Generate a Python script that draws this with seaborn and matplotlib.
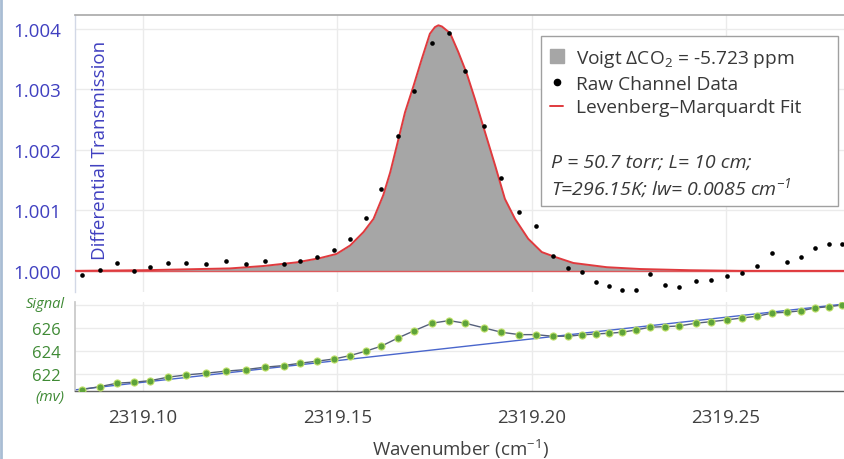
import matplotlib
matplotlib.use("Agg")
import matplotlib.pyplot as plt
from matplotlib.lines import Line2D
from matplotlib.patches import Rectangle
from matplotlib.ticker import MultipleLocator, FormatStrFormatter
import pandas as pd
import seaborn as sns

# Raw channel samples (wavenumber in cm^-1)
wavenumber = [2319.0844, 2319.0890, 2319.0934, 2319.0976, 2319.1019, 2319.1064, 2319.1111, 2319.1162,
              2319.1213, 2319.1265, 2319.1314, 2319.1362, 2319.1405, 2319.1447, 2319.1492, 2319.1532,
              2319.1573, 2319.1613, 2319.1656, 2319.1698, 2319.1743, 2319.1787, 2319.1829, 2319.1877,
              2319.1922, 2319.1968, 2319.2010, 2319.2054, 2319.2094, 2319.2129, 2319.2166, 2319.2198,
              2319.2233, 2319.2268, 2319.2304, 2319.2342, 2319.2379, 2319.2422, 2319.2462, 2319.2502,
              2319.2540, 2319.2580, 2319.2619, 2319.2657, 2319.2694, 2319.2729, 2319.2765, 2319.2799]
transmission = [0.99993, 1.00002, 1.00013, 1.00000, 1.00007, 1.00013, 1.00013, 1.00011,
                1.00017, 1.00012, 1.00017, 1.00012, 1.00017, 1.00023, 1.00035, 1.00052,
                1.00087, 1.00136, 1.00223, 1.00298, 1.00377, 1.00393, 1.00331, 1.00239,
                1.00153, 1.00097, 1.00074, 1.00025, 1.00005, 0.99998, 0.99982, 0.99975,
                0.99969, 0.99969, 0.99995, 0.99977, 0.99974, 0.99984, 0.99985, 0.99991,
                0.99997, 1.00008, 1.00029, 1.00014, 1.00023, 1.00038, 1.00044, 1.00044]
signal_mv = [620.63, 620.89, 621.19, 621.27, 621.41, 621.71, 621.91, 622.06,
             622.24, 622.38, 622.59, 622.73, 622.94, 623.11, 623.31, 623.60,
             623.99, 624.43, 625.15, 625.79, 626.44, 626.67, 626.44, 626.03,
             625.65, 625.44, 625.44, 625.30, 625.30, 625.42, 625.50, 625.56,
             625.65, 625.85, 626.09, 626.14, 626.20, 626.44, 626.58, 626.73,
             626.90, 627.05, 627.34, 627.40, 627.54, 627.78, 627.89, 628.04]

# Levenberg-Marquardt Voigt fit
fit_wavenumber = [2319.0825, 2319.1000, 2319.1224, 2319.1310, 2319.1395, 2319.1455, 2319.1498, 2319.1533,
                  2319.1567, 2319.1593, 2319.1618, 2319.1636, 2319.1653, 2319.1674, 2319.1696, 2319.1717,
                  2319.1738, 2319.1751, 2319.1760, 2319.1769, 2319.1790, 2319.1811, 2319.1833, 2319.1854,
                  2319.1880, 2319.1906, 2319.1931, 2319.1957, 2319.1991, 2319.2026, 2319.2060, 2319.2107,
                  2319.2193, 2319.2279, 2319.2407, 2319.2536, 2319.2806]
fit_transmission = [1.00000, 1.00001, 1.00004, 1.00008, 1.00014, 1.00021, 1.00028, 1.00042,
                    1.00064, 1.00086, 1.00125, 1.00163, 1.00207, 1.00262, 1.00306, 1.00350,
                    1.00392, 1.00403, 1.00406, 1.00404, 1.00393, 1.00362, 1.00326, 1.00284,
                    1.00229, 1.00174, 1.00119, 1.00086, 1.00053, 1.00031, 1.00023, 1.00013,
                    1.00006, 1.00003, 1.00001, 1.00000, 1.00000]

# Linear detector baseline (mV)
baseline_wavenumber = [2319.0825, 2319.2806]
baseline_mv = [620.60, 628.13]

legend_labels = [r"Voigt $\Delta$CO$_2$ = -5.723 ppm", "Raw Channel Data", "Levenberg\u2013Marquardt Fit"]
conditions = ["P = 50.7 torr; L= 10 cm;", r"T=296.15K; lw= 0.0085 cm$^{\mathdefault{-1}}$"]

BLUE = "#4040c0"
GREEN = "#3f8a35"
DARK = "#404040"
RED = "#e03a3e"
GRID = "#ebebeb"

sns.set_theme(style="white")
plt.rcParams["font.family"] = ["Open Sans", "DejaVu Sans"]
plt.rcParams["mathtext.fontset"] = "custom"
plt.rcParams["mathtext.rm"] = "Open Sans"
plt.rcParams["mathtext.it"] = "Open Sans:italic"

raw = pd.DataFrame({"wavenumber": wavenumber, "transmission": transmission, "signal": signal_mv})
fit = pd.DataFrame({"wavenumber": fit_wavenumber, "transmission": fit_transmission})
base = pd.DataFrame({"wavenumber": baseline_wavenumber, "signal": baseline_mv})

W, H = 845, 460
fig = plt.figure(figsize=(W / 100, H / 100), dpi=100)
fig.patch.set_facecolor("white")


def fx(px):
    return px / W


def fy(py):
    return 1 - py / H


ax_t = fig.add_axes([fx(75), fy(293), (845 - 75) / W, (293 - 16) / H])
ax_s = fig.add_axes([fx(75), fy(392), (845 - 75) / W, (392 - 303) / H], sharex=ax_t)

# ---- transmission panel ----
ax_t.fill_between(fit["wavenumber"], 1.0, fit["transmission"], color="#a6a6a6", lw=0, zorder=1)
ax_t.axhline(1.0, color=RED, lw=1.0, zorder=2, alpha=0.8)
sns.lineplot(data=fit, x="wavenumber", y="transmission", ax=ax_t, color=RED, lw=1.4,
             sort=False, zorder=3)
sns.scatterplot(data=raw, x="wavenumber", y="transmission", ax=ax_t, color="black",
                s=11, linewidth=0, zorder=4)

ax_t.set_xlim(2319.0825, 2319.2806)
ax_t.set_ylim(0.99965, 1.00423)
ax_t.set_yticks([1.000, 1.001, 1.002, 1.003, 1.004])
ax_t.yaxis.set_major_formatter(FormatStrFormatter("%.3f"))
ax_t.tick_params(axis="y", direction="in", length=3, color="#c8c8d8", pad=10,
                 labelsize=13.5, labelcolor=BLUE)
ax_t.tick_params(axis="x", which="both", length=0, labelbottom=False)
ax_t.grid(True, color=GRID, lw=1.0)
ax_t.set_axisbelow(True)
ax_t.set_xlabel("")
ax_t.set_ylabel("")
for side in ["right", "bottom"]:
    ax_t.spines[side].set_visible(False)
ax_t.spines["top"].set_color("#a8a8a8")
ax_t.spines["top"].set_linewidth(1.2)
ax_t.spines["left"].set_color("#d2d8e6")
ax_t.spines["left"].set_linewidth(1.0)

fig.text(fx(100), fy(150), "Differential Transmission", rotation=90, color=BLUE,
         fontsize=13.5, ha="center", va="center")

# legend box with the fit conditions
ax_t.add_patch(Rectangle((fx(541), fy(207)), (838 - 541) / W, (207 - 37) / H,
                         transform=fig.transFigure, facecolor="white",
                         edgecolor="#a0a0a0", lw=1.0, zorder=5))
handles = [
    Line2D([], [], ls="none", marker="s", markersize=9.5, color="#a6a6a6"),
    Line2D([], [], ls="none", marker="o", markersize=4.5, color="black"),
    Line2D([], [], color=RED, lw=1.4),
]
leg = ax_t.legend(handles, legend_labels, loc="upper left", frameon=False,
                  bbox_to_anchor=(fx(550), fy(49)), bbox_transform=fig.transFigure,
                  borderpad=0, borderaxespad=0, handlelength=0.7, handletextpad=0.65,
                  labelspacing=0.3, fontsize=13.8, labelcolor="#383838")
leg.set_zorder(6)
for i, line in enumerate(conditions):
    fig.text(fx(551), fy(163 + 25 * i), line, style="italic", fontsize=14,
             color="#383838", ha="left", va="center", zorder=7)

# ---- signal panel ----
sns.lineplot(data=base, x="wavenumber", y="signal", ax=ax_s, color="#4a66cc", lw=1.0,
             sort=False, zorder=2)
sns.lineplot(data=raw, x="wavenumber", y="signal", ax=ax_s, color="#55607a", lw=1.0,
             sort=False, zorder=3)
sns.scatterplot(data=raw, x="wavenumber", y="signal", ax=ax_s, color="#5ea33a",
                edgecolor="#bfe06a", linewidth=0.8, s=26, zorder=4)

ax_s.set_ylim(620.5, 628.3)
ax_s.set_yticks([622, 624, 626, 628])
ax_s.set_yticklabels(["622", "624", "626", ""])
ax_s.xaxis.set_major_locator(MultipleLocator(0.05))
ax_s.xaxis.set_minor_locator(MultipleLocator(0.01))
ax_s.xaxis.set_major_formatter(FormatStrFormatter("%.2f"))
ax_s.tick_params(axis="y", direction="in", length=3, color="#c8c8c8", pad=10,
                 labelsize=12, labelcolor=GREEN)
ax_s.tick_params(axis="x", which="major", direction="in", length=6, width=1.0,
                 color="#606060", pad=12, labelsize=13.5, labelcolor=DARK)
ax_s.tick_params(axis="x", which="minor", direction="in", length=4, width=1.0,
                 color="#606060")
ax_s.grid(True, which="major", color=GRID, lw=1.0)
ax_s.set_axisbelow(True)
ax_s.set_xlabel("")
ax_s.set_ylabel("")
for side in ["right", "top"]:
    ax_s.spines[side].set_visible(False)
ax_s.spines["bottom"].set_color("#606060")
ax_s.spines["bottom"].set_linewidth(1.0)
ax_s.spines["left"].set_color("#c8c8c8")

fig.text(fx(65), fy(305), "Signal", style="italic", fontsize=10.5, color=GREEN,
         ha="right", va="center")
fig.text(fx(64), fy(398), "(mv)", style="italic", fontsize=11, color=GREEN,
         ha="right", va="center")
fig.text(fx(460), fy(449), r"Wavenumber (cm$^{\mathdefault{-1}}$)", fontsize=13.5, color=DARK,
         ha="center", va="center")

# thin frame accent along the left edge
fig.add_artist(Line2D([fx(1.5), fx(1.5)], [0, 1], transform=fig.transFigure,
                      color="#a9bdd4", lw=2.0))

fig.savefig("out.png", dpi=100)
